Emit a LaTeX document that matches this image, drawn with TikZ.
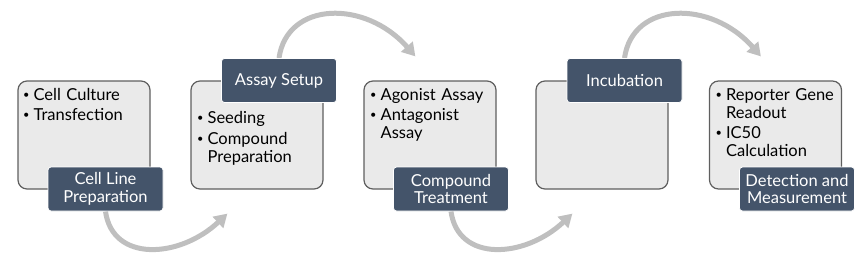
\documentclass[tikz,border=0pt]{standalone}
\usepackage{fontspec}
\setmainfont{Lato}
\usetikzlibrary{arrows.meta,calc,backgrounds}
\definecolor{boxfill}{HTML}{EAEAEA}
\definecolor{boxline}{HTML}{5F5F5F}
\definecolor{labfill}{HTML}{44546A}
\definecolor{arrgray}{HTML}{BFBFBF}
\newcommand{\bitem}[1]{\par\hangindent=12pt\hangafter=1\noindent\makebox[12pt][l]{\hspace{1.5pt}\raisebox{0.12em}{\fontsize{11}{11}\selectfont\textbullet}}#1\par}
\begin{document}
\begin{tikzpicture}[x=1pt,y=-1pt,
  stagebox/.style={draw=boxline, fill=boxfill, line width=1.2pt, rounded corners=9pt,
    minimum width=132pt, minimum height=108pt, inner sep=0pt},
  stagelabel/.style={draw=white, line width=0.8pt, fill=labfill, text=white, rounded corners=3pt,
    minimum width=115pt, minimum height=44pt, inner sep=0pt, align=center,
    font=\fontsize{16.5}{17.5}\selectfont},
  bullets/.style={anchor=north west, inner sep=0pt, text width=125pt,
    font=\fontsize{16.5}{17.8}\selectfont},
  flowarrow/.style={draw=arrgray, line width=5pt, -{Triangle[length=13pt,width=15pt]}}]
\useasboundingbox (0,0) rectangle (865,263);

\node[stagebox] (b1) at (84,135) {};
\node[stagebox] (b2) at (257,135) {};
\node[stagebox] (b3) at (430,135) {};
\node[stagebox] (b4) at (602,135) {};
\node[stagebox] (b5) at (775.5,135) {};

\node[bullets] (t1) at ($(b1.north west)+(4,2)$) {\bitem{Cell Culture}\vspace{2.5pt}\bitem{Transfection}};
\node[bullets] (t2) at ($(b2.north west)+(5,25.5)$) {\bitem{Seeding}\vspace{2.5pt}\bitem{Compound\newline Preparation}};
\node[bullets] (t3) at ($(b3.north west)+(5,2)$) {\bitem{Agonist Assay}\vspace{2.5pt}\bitem{Antagonist\newline Assay}};
\node[bullets] (t5) at ($(b5.north west)+(5,2)$) {\bitem{Reporter Gene\newline Readout}\vspace{2.5pt}\bitem{IC50\newline Calculation}};

\node[stagelabel] (l1) at (105.5,189) {Cell Line\\Preparation};
\node[stagelabel] (l2) at (279,80.5) {Assay Setup};
\node[stagelabel] (l3) at (451,189) {Compound\\Treatment};
\node[stagelabel] (l4) at (624.5,80.5) {Incubation};
\node[stagelabel] (l5) at (797,189) {Detection and\\Measurement};

\coordinate (e1) at ($(b2.south west)+(37,24)$);
\coordinate (e2) at ($(b3.north west)+(52,-24)$);
\coordinate (e3) at ($(b4.south west)+(37,24)$);
\coordinate (e4) at ($(b5.north west)+(52,-24)$);

\begin{scope}[on background layer]
\draw[flowarrow] (l1.south) .. controls +(7,51) and +(-48,45) .. (e1);
\draw[flowarrow] (l2.north) .. controls +(8,-57) and +(-50,-57) .. (e2);
\draw[flowarrow] (l3.south) .. controls +(7,51) and +(-48,45) .. (e3);
\draw[flowarrow] (l4.north) .. controls +(8,-57) and +(-50,-57) .. (e4);
\end{scope}
\end{tikzpicture}
\end{document}
